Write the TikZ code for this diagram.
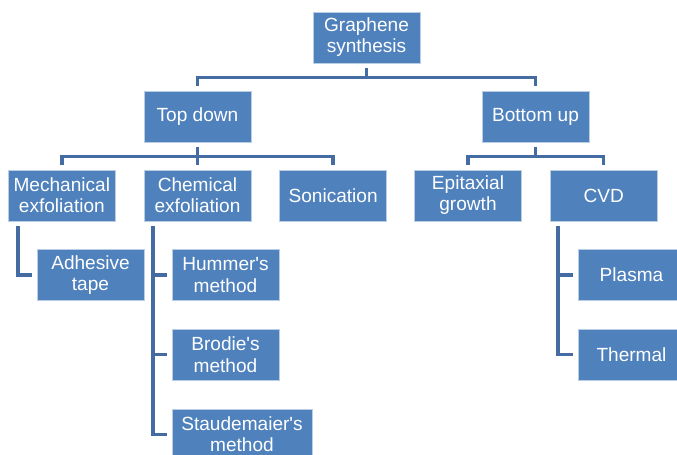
\documentclass[tikz,border=0pt]{standalone}
\usepackage{fontspec}
\setmainfont{Liberation Sans}
\usepackage{xcolor}
\definecolor{boxblue}{RGB}{79,129,189}
\definecolor{linkblue}{RGB}{68,108,163}
\definecolor{edgeblue}{RGB}{185,205,229}
\usetikzlibrary{positioning}

\begin{document}
\begin{tikzpicture}[
  x=0.75pt,y=-0.75pt,
  node distance=21pt,
  box/.style={draw=edgeblue,line width=0.5pt,fill=boxblue,text=white,
    minimum width=80.25pt,minimum height=38.25pt,inner sep=0pt,
    align=center,font=\fontsize{14.3pt}{15.8pt}\selectfont},
  widebox/.style={box,minimum width=105pt},
  link/.style={draw=linkblue,line width=2.6pt,shorten <=3.5pt,shorten >=3.5pt}
]
  \useasboundingbox (0,0) rectangle (677,454);
  % top two levels
  \node[box] (root) at (366.5,37.5) {Graphene\\synthesis};
  \node[box] (td) at (197.5,116.5) {Top down};
  \node[box] (bu) at (535.5,116.5) {Bottom up};
  % methods
  \node[box] (chem) at (197.5,195.5) {Chemical\\exfoliation};
  \node[box,left=of chem] (mech) {Mechanical\\exfoliation};
  \node[box,right=of chem] (son) {Sonication};
  \node[box] (epi) at (468,195.5) {Epitaxial\\growth};
  \node[box,right=of epi] (cvd) {CVD};
  % sub-methods
  \node[box] (adh) at (90.5,275) {Adhesive\\tape};
  \node[box] (hum) at (225.5,275) {Hummer\textquotesingle s\\method};
  \node[box,below=of hum] (bro) {Brodie\textquotesingle s\\method};
  \node[widebox,anchor=north west] (sta) at ([yshift=-21pt]bro.south west) {Staudemaier\textquotesingle s\\method};
  \node[box] (pla) at (631.5,275) {Plasma};
  \node[box,below=of pla] (the) {Thermal};
  % tree links
  \draw[link] (root.south) -- ++(0,14) -| (td.north);
  \draw[link] (root.south) -- ++(0,14) -| (bu.north);
  \draw[link] (td.south) -- ++(0,14) -| (mech.north);
  \draw[link] (td.south) -- (chem.north);
  \draw[link] (td.south) -- ++(0,14) -| (son.north);
  \draw[link] (bu.south) -- ++(0,14) -| (epi.north);
  \draw[link] (bu.south) -- ++(0,14) -| (cvd.north);
  \draw[link] ([xshift=7.5pt]mech.south west) |- (adh.west);
  \draw[link] ([xshift=7pt]chem.south west) |- (hum.west);
  \draw[link] ([xshift=7pt]chem.south west) |- (bro.west);
  \draw[link] ([xshift=7pt]chem.south west) |- (sta.west);
  \draw[link] ([xshift=6pt]cvd.south west) |- (pla.west);
  \draw[link] ([xshift=6pt]cvd.south west) |- (the.west);
\end{tikzpicture}
\end{document}
